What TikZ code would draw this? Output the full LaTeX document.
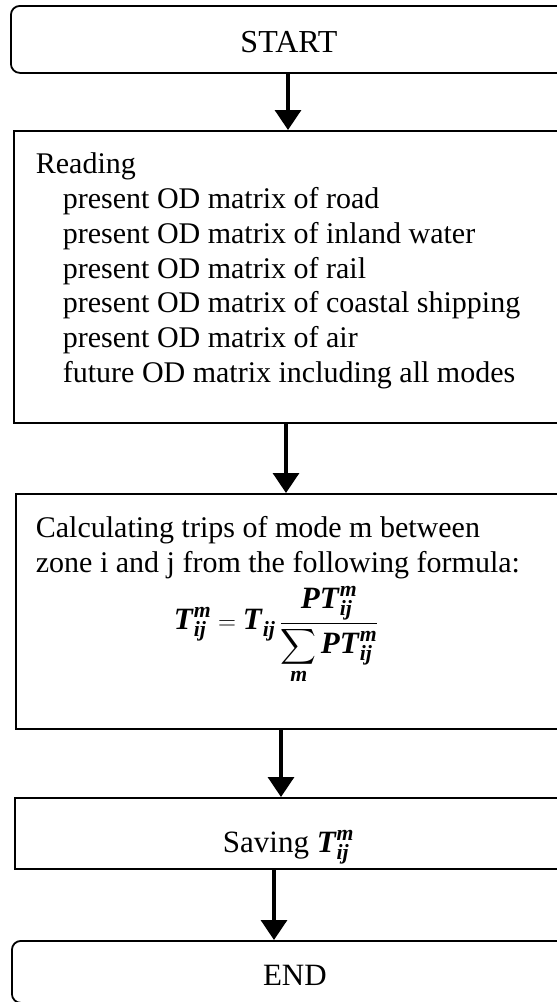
\documentclass[tikz,border=0pt]{standalone}
\usepackage{amsmath}
\usepackage{fontspec}
\setmainfont{Liberation Serif}
\usetikzlibrary{arrows.meta}
\newcommand{\ti}[1]{\textbf{\textit{#1}}}
\newcommand{\boxtext}[4]{\parbox[c][#1][t]{#2}{\raggedright\rule{0pt}{#3}#4}}
\begin{document}
\begin{tikzpicture}[x=1pt,y=-1pt,
  box/.style={draw=black,line width=1.8pt,anchor=north west,inner sep=0pt},
  rbox/.style={box,rounded corners=9pt},
  arr/.style={line width=3.3pt,-{Triangle[length=20pt,width=26pt]}}]
\useasboundingbox (0,0) rectangle (557,1002);
\clip (0,0) rectangle (557,1002);
\node[rbox] (start) at (10,5) {\boxtext{67pt}{560pt}{47pt}{\fontsize{32}{36}\selectfont\hspace*{278pt}\makebox[0pt]{START}}};
\node[box] (read) at (13,130) {\boxtext{292pt}{560pt}{43pt}{\fontsize{30}{34.7}\selectfont
\hspace*{22pt}Reading\\
\hspace*{49pt}present OD matrix of road\\
\hspace*{49pt}present OD matrix of inland water\\
\hspace*{49pt}present OD matrix of rail\\
\hspace*{49pt}present OD matrix of coastal shipping\\
\hspace*{49pt}present OD matrix of air\\
\hspace*{49pt}future OD matrix including all modes}};
\node[box] (calc) at (15,493) {\boxtext{235pt}{560pt}{44pt}{\fontsize{30}{35}\selectfont
\hspace*{20pt}Calculating trips of mode m between\\
\hspace*{20pt}zone i and j from the following formula:\\[6pt]
\hspace*{158pt}{\fontsize{31}{35}\selectfont$\ti{T}_{\ti{ij}}^{\ti{m}} = \ti{T}_{\ti{ij}}\,\dfrac{\ti{PT}_{\ti{ij}}^{\ti{m}}}{\displaystyle\sum_{\ti{m}}\ti{PT}_{\ti{ij}}^{\ti{m}}}$}}};
\node[box] (save) at (14,797) {\boxtext{71pt}{560pt}{55pt}{\fontsize{31}{35}\selectfont\hspace*{208pt}Saving $\ti{T}_{\ti{ij}}^{\ti{m}}$}};
\node[rbox] (end) at (11,940) {\boxtext{62pt}{560pt}{45pt}{\fontsize{31}{35}\selectfont\hspace*{283pt}\makebox[0pt]{END}}};
\draw[arr] ([xshift=278pt]start.south west) -- ([xshift=275pt]read.north west);
\draw[arr] ([xshift=273pt]read.south west) -- ([xshift=271pt]calc.north west);
\draw[arr] ([xshift=266pt]calc.south west) -- ([xshift=267pt]save.north west);
\draw[arr] ([xshift=260pt]save.south west) -- ([xshift=263pt]end.north west);
\end{tikzpicture}
\end{document}
